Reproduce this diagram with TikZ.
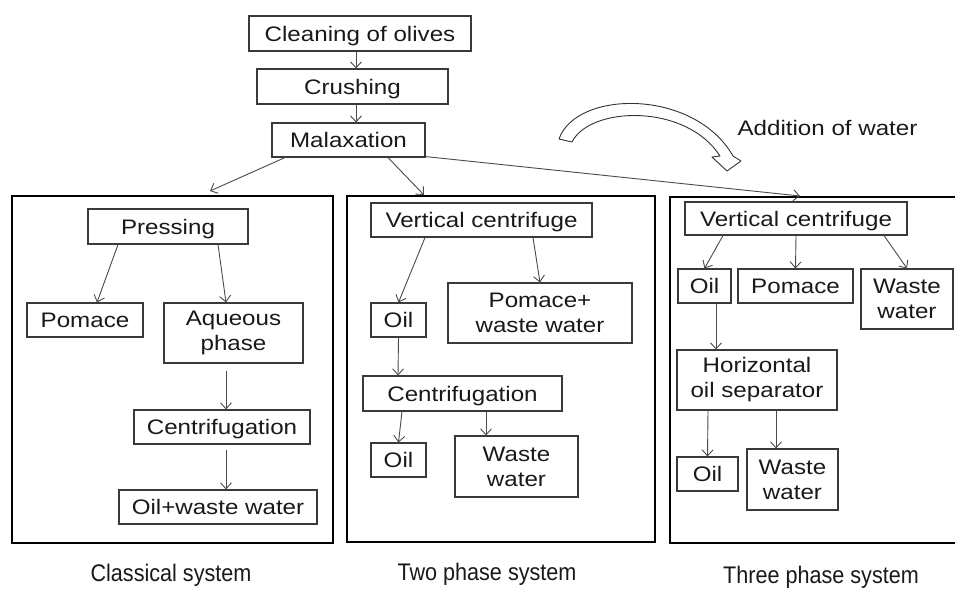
\documentclass[tikz,border=0pt]{standalone}
\usepackage{fontspec}
\setmainfont{Liberation Sans}
\newfontfamily\boxfont[FakeStretch=1.15]{Liberation Sans}
\newfontfamily\lblfont[FakeStretch=0.9]{Liberation Sans}
\usetikzlibrary{arrows.meta}
\definecolor{bordergray}{HTML}{3A3A3A}
\definecolor{linegray}{HTML}{4A4A4A}
\tikzset{
  bx/.style={draw=bordergray, line width=1.1pt, inner sep=0pt, align=center,
    font=\boxfont\fontsize{21}{25}\selectfont, text=black!90},
  one/.style={text height=17pt, text depth=2pt},
  bigbox/.style={draw=black, line width=2.2pt},
  arr/.style={draw=linegray, line width=0.9pt, -{Straight Barb[length=6pt,width=11pt]}},
  lbl/.style={font=\lblfont\fontsize{24}{28}\selectfont, text=black!90, inner sep=0pt, anchor=base},
  blockarrow/.style={draw=black!80, line width=0.9pt, fill=white, line join=round}
}
\begin{document}
\begin{tikzpicture}[x=1pt,y=-1pt]
\useasboundingbox (0,0) rectangle (955,590);
% top chain
\node[bx, one, minimum width=222, minimum height=35] (clean) at (360,33.5) {Cleaning of olives};
\node[bx, one, minimum width=191, minimum height=35] (crush) at (352.5,86.5) {Crushing};
\node[bx, one, minimum width=153, minimum height=34] (malax) at (348.5,140) {Malaxation};
\draw[arr] ([xshift=-4pt]clean.south) -- ([xshift=3.5pt]crush.north);
\draw[arr] ([xshift=3.5pt]crush.south) -- ([xshift=7.5pt]malax.north);
% big boxes
\draw[bigbox] (12,196) rectangle (333,543);
\draw[bigbox] (347,196) rectangle (655,542);
\draw[bigbox] (965,197) -- (670,197) -- (670,543) -- (965,543);
\coordinate (tL) at (210,191);
\coordinate (tM) at (424,195);
\coordinate (tR) at (800,196);
\draw[arr] ([xshift=-63.5pt]malax.south) -- (tL);
\draw[arr] ([xshift=39.5pt]malax.south) -- (tM);
\draw[arr] ([yshift=1pt]malax.south east) -- (tR);
% addition of water
\draw[blockarrow] (559,139) .. controls (576,90) and (694,88) .. (733,156)
  -- (741,161) -- (727,171) -- (712,157) -- (720,156)
  .. controls (686,103) and (590,106) .. (572,142) -- cycle;
\node[bx, draw=none, anchor=west] (addw) at (737,128) {Addition of water};
% classical system
\node[bx, one, minimum width=160, minimum height=35] (press) at (168,226.5) {Pressing};
\node[bx, one, minimum width=116, minimum height=34] (pomL) at (85,320) {Pomace};
\node[bx, minimum width=139, minimum height=60] (aq) at (233.5,333) {Aqueous\\phase};
\node[bx, one, minimum width=176, minimum height=34] (cenL) at (222,427) {Centrifugation};
\node[bx, one, minimum width=198, minimum height=34] (owL) at (218,507) {Oil+waste water};
\draw[arr] ([xshift=-50pt]press.south) -- ([xshift=12pt]pomL.north);
\draw[arr] ([xshift=50pt]press.south) -- ([xshift=-7.5pt]aq.north);
\draw[arr] ([xshift=-7.5pt,yshift=-7pt]aq.south) -- ([xshift=4pt]cenL.north);
\draw[arr] ([xshift=4pt,yshift=-5pt]cenL.south) -- ([xshift=8pt]owL.north);
% two phase system
\node[bx, one, minimum width=221, minimum height=34] (vcM) at (481.5,220) {Vertical centrifuge};
\node[bx, one, minimum width=55, minimum height=34] (oilM1) at (398.5,320) {Oil};
\node[bx, minimum width=184, minimum height=60] (pwM) at (540,313) {Pomace+\\waste water};
\node[bx, one, minimum width=199, minimum height=35] (cenM) at (462.5,393.5) {Centrifugation};
\node[bx, one, minimum width=55, minimum height=34] (oilM2) at (398.5,460) {Oil};
\node[bx, minimum width=123, minimum height=61] (wwM) at (516.5,466.5) {Waste\\water};
\draw[arr] ([xshift=-56.5pt]vcM.south) -- (oilM1.north);
\draw[arr] ([xshift=51.5pt]vcM.south) -- (pwM.north);
\draw[arr] (oilM1.south) -- ([xshift=-64.5pt]cenM.north);
\draw[arr] ([xshift=-60.5pt]cenM.south) -- (oilM2.north);
\draw[arr] ([xshift=23.5pt]cenM.south) -- ([xshift=-30.5pt]wwM.north);
% three phase system
\node[bx, one, minimum width=222, minimum height=33] (vcR) at (796,218.5) {Vertical centrifuge};
\node[bx, one, minimum width=53, minimum height=34] (oilR1) at (704.5,286) {Oil};
\node[bx, one, minimum width=115, minimum height=34] (pomR) at (795.5,286) {Pomace};
\node[bx, minimum width=92, minimum height=60] (wwR1) at (907,299) {Waste\\water};
\node[bx, minimum width=160, minimum height=60] (hos) at (757,380) {Horizontal\\oil separator};
\node[bx, one, minimum width=61, minimum height=34] (oilR2) at (707.5,474) {Oil};
\node[bx, minimum width=91, minimum height=61] (wwR2) at (792.5,479.5) {Waste\\water};
\draw[arr] ([xshift=-73pt]vcR.south) -- (oilR1.north);
\draw[arr] (vcR.south) -- (pomR.north);
\draw[arr] ([xshift=88pt]vcR.south) -- (wwR1.north);
\draw[arr] ([xshift=11.5pt]oilR1.south) -- ([xshift=-41pt]hos.north);
\draw[arr] ([xshift=-49pt]hos.south) -- (oilR2.north);
\draw[arr] ([xshift=19pt]hos.south) -- ([xshift=-16.5pt]wwR2.north);
% system labels
\node[lbl] (lab1) at (171,581) {Classical system};
\node[lbl] (lab2) at (487,580) {Two phase system};
\node[lbl] (lab3) at (821,583) {Three phase system};
\end{tikzpicture}
\end{document}
